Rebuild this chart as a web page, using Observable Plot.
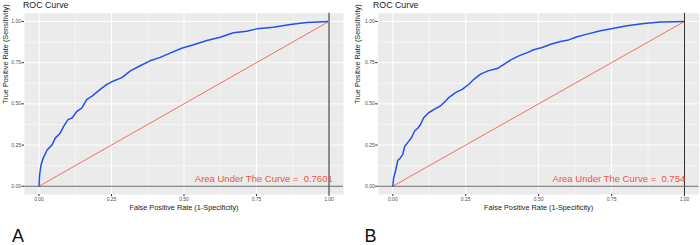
<!DOCTYPE html>
<html><head><meta charset="utf-8">
<script src="https://cdn.jsdelivr.net/npm/d3@7"></script>
<script src="https://cdn.jsdelivr.net/npm/@observablehq/plot@0.6"></script>
<style>
body{margin:0;background:#fff;font-family:"Liberation Sans",Arial,sans-serif;}
#wrap{position:relative;width:700px;height:245px;overflow:hidden;background:#fff;}
.title{position:absolute;top:0.5px;font-size:8.8px;color:#1a1a1a;line-height:1;white-space:nowrap;}
.letter{position:absolute;font-size:18px;line-height:1;color:#111;}
.plot{position:absolute;top:0;}
</style></head><body><div id="wrap"></div>
<script>
// ---- data ----
const panelLetters = ["A", "B"];
const titleText = "ROC Curve";
const xLabel = "False Positive Rate (1-Specificity)";
const yLabel = "True Positive Rate (Sensitivity)";
const majorTicks = [0, 0.25, 0.5, 0.75, 1];
const minorTicks = [0.125, 0.375, 0.625, 0.875];
const aucValues = ["0.7601", "0.754"];

const fprA = [0, 0.002, 0.007, 0.014, 0.028, 0.045, 0.056, 0.073, 0.085, 0.1, 0.114, 0.131, 0.148, 0.165, 0.183, 0.211, 0.234, 0.257, 0.286, 0.315, 0.349, 0.383, 0.418, 0.452, 0.492, 0.533, 0.579, 0.625, 0.67, 0.716, 0.751, 0.808, 0.866, 0.923, 1];
const tprA = [0, 0.067, 0.129, 0.169, 0.22, 0.251, 0.292, 0.322, 0.363, 0.404, 0.414, 0.455, 0.476, 0.527, 0.547, 0.588, 0.618, 0.639, 0.659, 0.7, 0.731, 0.761, 0.782, 0.808, 0.837, 0.859, 0.884, 0.904, 0.931, 0.941, 0.955, 0.965, 0.982, 0.994, 1];

const fprB = [0, 0.003, 0.009, 0.017, 0.026, 0.034, 0.041, 0.055, 0.064, 0.075, 0.087, 0.095, 0.106, 0.123, 0.146, 0.163, 0.181, 0.192, 0.215, 0.238, 0.261, 0.278, 0.301, 0.326, 0.358, 0.381, 0.403, 0.432, 0.461, 0.483, 0.512, 0.541, 0.575, 0.603, 0.632, 0.666, 0.712, 0.758, 0.803, 0.861, 0.918, 1];
const tprB = [0, 0.051, 0.091, 0.156, 0.172, 0.193, 0.243, 0.274, 0.294, 0.335, 0.355, 0.375, 0.416, 0.446, 0.471, 0.487, 0.517, 0.538, 0.568, 0.588, 0.619, 0.649, 0.68, 0.7, 0.714, 0.74, 0.765, 0.791, 0.811, 0.828, 0.842, 0.862, 0.878, 0.888, 0.907, 0.923, 0.943, 0.959, 0.974, 0.988, 0.996, 1];

const diag = [0, 1];
const annotPos = {x: 0.775, y: 0.044};

// ---- drawing ----
const wrap = document.getElementById("wrap");
const red = "#f0533f";
const blue = "#2350f0";

function panel(fpr, tpr, auc, cfg) {
  const pts = fpr.map((x, i) => ({x, y: tpr[i]}));
  const label = "Area Under The Curve =\u00a0\u00a0" + auc;
  const chart = Plot.plot({
    width: 350, height: 215,
    marginLeft: cfg.ml, marginRight: cfg.mr, marginTop: 12.7, marginBottom: 21,
    style: {fontFamily: "Liberation Sans, Arial, sans-serif", background: "transparent", overflow: "visible"},
    x: {domain: [-0.05, 1.05]},
    y: {domain: [-0.05, 1.05]},
    marks: [
      Plot.frame({fill: "#EBEBEB", stroke: null}),
      Plot.gridX(minorTicks, {stroke: "white", strokeOpacity: 1, strokeWidth: 0.5}),
      Plot.gridY(minorTicks, {stroke: "white", strokeOpacity: 1, strokeWidth: 0.5}),
      Plot.gridX(majorTicks, {stroke: "white", strokeOpacity: 1, strokeWidth: 1}),
      Plot.gridY(majorTicks, {stroke: "white", strokeOpacity: 1, strokeWidth: 1}),
      Plot.axisX(majorTicks, {tickSize: 2, tickPadding: 1.2, tickFormat: d3.format(".2f"), fontSize: 5, fill: "#4d4d4d", stroke: "#333", label: null}),
      Plot.axisY(majorTicks, {tickSize: 2.5, tickPadding: 1, tickFormat: d3.format(".2f"), fontSize: 5, fill: "#4d4d4d", stroke: "#333", label: null}),
      Plot.text([xLabel], {frameAnchor: "bottom", dy: 13, text: d => d, fontSize: 7.3, fill: "#1a1a1a", lineAnchor: "middle"}),
      Plot.text([yLabel], {frameAnchor: "left", dx: cfg.ylabDx, text: d => d, fontSize: 7.3, fill: "#1a1a1a", rotate: -90, lineAnchor: "middle"}),
      Plot.line(diag, {x: d => d, y: d => d, stroke: red, strokeWidth: 0.8}),
      Plot.line(pts, {x: "x", y: "y", stroke: blue, strokeWidth: 1.5}),
      Plot.ruleX([1], {stroke: cfg.vColor, strokeWidth: cfg.vWidth}),
      Plot.ruleY([0], {stroke: "#666", strokeWidth: 1.2}),
      Plot.text([label], {x: () => annotPos.x, y: () => annotPos.y, text: d => d, fill: red, fontSize: 9.5, textAnchor: "middle", lineAnchor: "middle"})
    ]
  });
  const box = document.createElement("div");
  box.className = "plot";
  box.style.left = cfg.left + "px";
  box.appendChild(chart);
  wrap.appendChild(box);

  const t = document.createElement("div");
  t.className = "title";
  t.style.left = (cfg.left + cfg.titleLeft) + "px";
  t.textContent = titleText;
  wrap.appendChild(t);

  const l = document.createElement("div");
  l.className = "letter";
  l.style.left = (cfg.left + cfg.letterLeft) + "px";
  l.style.top = "227px";
  l.textContent = cfg.letter;
  wrap.appendChild(l);
}

panel(fprA, tprA, aucValues[0], {left: 0, ml: 24, mr: 7, ylabDx: -19, vColor: "#8c8c8c", vWidth: 2, titleLeft: 23, letterLeft: 12, letter: panelLetters[0]});
panel(fprB, tprB, aucValues[1], {left: 350, ml: 27.7, mr: 1.4, ylabDx: -21, vColor: "#333", vWidth: 1, titleLeft: 23, letterLeft: 14.5, letter: panelLetters[1]});
</script>
</body></html>
